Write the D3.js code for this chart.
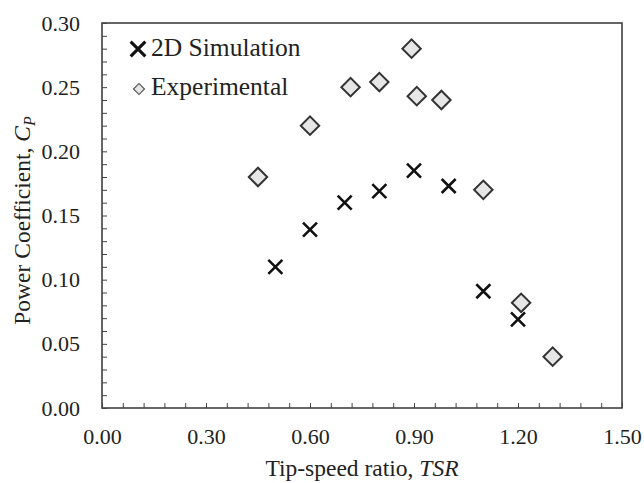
<!DOCTYPE html>
<html>
<head>
<meta charset="utf-8">
<script src="https://cdnjs.cloudflare.com/ajax/libs/d3/7.8.5/d3.min.js"></script>
<style>
  body { margin: 0; background: #fff; }
  text { font-family: "Liberation Serif", "Times New Roman", serif; fill: #222; }
</style>
</head>
<body>
<div id="chart-area"></div>
<script>
const svgWidth = 644,
      svgHeight = 483;
const margin = {left: 102, right: 22, top: 23, bottom: 75};

const areaWidth = svgWidth - margin.left - margin.right;
const areaHeight = svgHeight - margin.top - margin.bottom;

// data
const simTSR = [0.50, 0.60, 0.70, 0.80, 0.90, 1.00, 1.10, 1.20];
const simCP  = [0.110, 0.139, 0.160, 0.169, 0.185, 0.173, 0.091, 0.069];
const expTSR = [0.45, 0.60, 0.717, 0.80, 0.893, 0.908, 0.979, 1.10, 1.209, 1.30];
const expCP  = [0.180, 0.220, 0.250, 0.254, 0.280, 0.243, 0.240, 0.170, 0.082, 0.040];
const xTicks = [0, 0.3, 0.6, 0.9, 1.2, 1.5];
const yTicks = [0, 0.05, 0.10, 0.15, 0.20, 0.25, 0.30];

const svg = d3.select("#chart-area")
  .append("svg")
  .attr("width", svgWidth)
  .attr("height", svgHeight);

const area = svg.append("g")
  .attr("transform", `translate(${margin.left}, ${margin.top})`);

const x = d3.scaleLinear().domain([0, 1.5]).range([0, areaWidth]);
const y = d3.scaleLinear().domain([0, 0.30]).range([areaHeight, 0]);

// frame
area.append("rect")
  .attr("width", areaWidth)
  .attr("height", areaHeight)
  .attr("fill", "none")
  .attr("stroke", "#333")
  .attr("stroke-width", 1.5);

// x axis: minor ticks every 0.06, labels every 0.30
const xMinor = d3.range(0, 1.5001, 0.06);
const xAxisGroup = area.append("g")
  .attr("transform", `translate(0, ${areaHeight})`)
  .call(d3.axisBottom(x).tickValues(xMinor).tickSize(-5).tickFormat(""));
xAxisGroup.select(".domain").remove();
xAxisGroup.selectAll("line").attr("stroke", "#444");

const xLabels = area.append("g")
  .attr("transform", `translate(0, ${areaHeight})`)
  .call(d3.axisBottom(x).tickValues(xTicks).tickSize(0).tickPadding(20)
    .tickFormat(d3.format(".2f")));
xLabels.select(".domain").remove();
xLabels.selectAll("text")
  .attr("font-size", "22px")
  .attr("font-family", "Liberation Serif");

// y axis: minor ticks every 0.01
const yMinor = d3.range(0, 0.3001, 0.01);
const yAxisGroup = area.append("g")
  .call(d3.axisLeft(y).tickValues(yMinor).tickSize(-5).tickFormat(""));
yAxisGroup.select(".domain").remove();
yAxisGroup.selectAll("line").attr("stroke", "#444");

const yLabels = area.append("g")
  .call(d3.axisLeft(y).tickValues(yTicks).tickSize(0).tickPadding(22)
    .tickFormat(d3.format(".2f")));
yLabels.select(".domain").remove();
yLabels.selectAll("text")
  .attr("font-size", "22px")
  .attr("font-family", "Liberation Serif");

// axis titles
const xTitle = area.append("text")
  .attr("x", areaWidth / 2)
  .attr("y", areaHeight + 68)
  .attr("font-size", "23.5px")
  .attr("text-anchor", "middle");
xTitle.append("tspan").text("Tip-speed ratio,  ");
xTitle.append("tspan").attr("font-style", "italic").text("TSR");

const yTitle = area.append("text")
  .attr("transform", `translate(-72, ${areaHeight / 2 + 5}) rotate(-90)`)
  .attr("font-size", "23.5px")
  .attr("text-anchor", "middle");
yTitle.append("tspan").text("Power Coefficient, ");
yTitle.append("tspan").attr("font-style", "italic").text("C");
yTitle.append("tspan").attr("font-style", "italic").attr("font-size", "16px")
  .attr("dy", 5).text("P");

const simData = simTSR.map((t, i) => ({tsr: t, cp: simCP[i]}));
const expData = expTSR.map((t, i) => ({tsr: t, cp: expCP[i]}));

const diamond = d3.symbol().type(d3.symbolSquare).size(170);
const cross = "M-7,-7L7,7M-7,7L7,-7";

area.selectAll(".exp")
  .data(expData)
  .enter().append("path")
  .attr("class", "exp")
  .attr("d", diamond)
  .attr("transform", d => `translate(${x(d.tsr)}, ${y(d.cp)}) rotate(45)`)
  .attr("fill", "#e6e6e6")
  .attr("stroke", "#333")
  .attr("stroke-width", 2);

area.selectAll(".sim")
  .data(simData)
  .enter().append("path")
  .attr("class", "sim")
  .attr("d", cross)
  .attr("transform", d => `translate(${x(d.tsr)}, ${y(d.cp)})`)
  .attr("fill", "none")
  .attr("stroke", "#111")
  .attr("stroke-width", 2.6);

// legend
const legend = area.append("g").attr("transform", "translate(36, 26)");
legend.append("path")
  .attr("d", cross)
  .attr("transform", "scale(1.05)")
  .attr("stroke", "#111")
  .attr("stroke-width", 3)
  .attr("fill", "none");
legend.append("text")
  .attr("x", 13)
  .attr("y", 7)
  .attr("font-size", "25.5px")
  .text("2D Simulation");
legend.append("path")
  .attr("d", d3.symbol().type(d3.symbolSquare).size(60))
  .attr("transform", "translate(1, 40) rotate(45)")
  .attr("fill", "#e6e6e6")
  .attr("stroke", "#555")
  .attr("stroke-width", 1.2);
legend.append("text")
  .attr("x", 13)
  .attr("y", 46)
  .attr("font-size", "25.5px")
  .text("Experimental");
</script>
</body>
</html>
